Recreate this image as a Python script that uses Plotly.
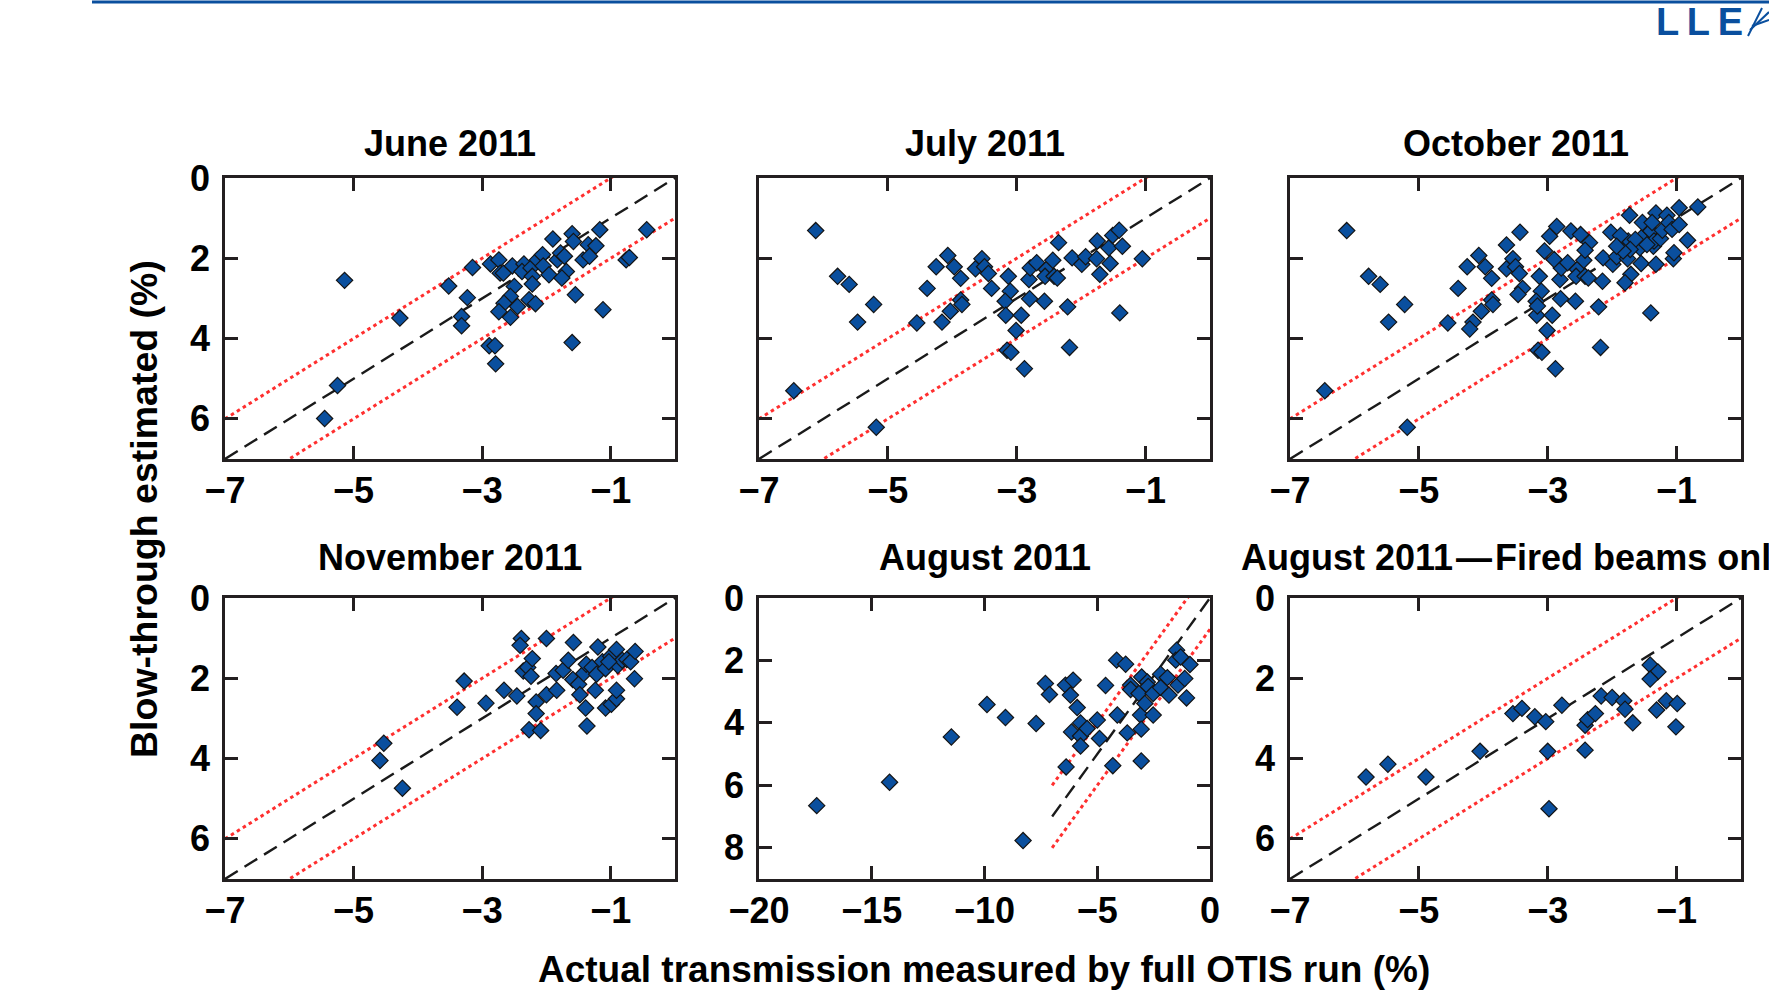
import plotly.graph_objects as go

W, H = 1769, 992

# ---------------- data ----------------
june_x = [-5.14, -5.45, -5.25, -4.28, -3.52, -3.15, -3.23, -3.32, -3.32, -2.87,
          -2.74, -2.72, -2.67, -2.53, -2.35, -2.38, -2.24, -2.22, -2.22, -2.50,
          -2.56, -2.66, -2.74, -2.45, -2.56, -2.27, -2.17, -2.14, -2.06, -2.05,
          -1.96, -1.90, -1.83, -1.78, -1.72, -1.69, -1.76, -1.60, -1.58, -1.35,
          -1.23, -1.43, -1.33, -1.17, -1.55, -1.12, -1.60, -2.89, -2.80, -2.79,
          -0.76, -0.71, -0.44]
june_y = [2.55, 5.99, 5.17, 3.49, 2.69, 2.23, 2.98, 3.45, 3.68, 2.14,
          2.04, 2.37, 2.37, 2.19, 2.14, 2.33, 2.24, 2.45, 2.64, 2.70,
          2.95, 3.12, 3.33, 3.20, 3.47, 3.03, 3.13, 2.04, 1.91, 2.19,
          2.41, 1.52, 2.04, 1.87, 1.95, 2.33, 2.49, 1.39, 1.58, 1.66,
          1.69, 2.04, 1.95, 1.29, 2.91, 3.28, 4.10, 4.18, 4.18, 4.63,
          2.04, 1.98, 1.29]

july_x = [-6.12, -6.46, -5.18, -5.78, -5.60, -5.22, -5.47, -4.55, -4.39, -4.25,
          -4.07, -3.97, -3.87, -3.87, -3.85, -4.03, -4.16, -3.64, -3.54, -3.50,
          -3.44, -3.39, -3.13, -3.10, -3.18, -3.17, -2.93, -3.01, -3.15, -3.09,
          -2.88, -2.81, -2.79, -2.69, -2.80, -2.57, -2.54, -2.56, -2.44, -2.42,
          -2.37, -2.35, -2.21, -2.14, -1.99, -1.93, -2.18, -1.75, -1.76, -1.71,
          -1.55, -1.57, -1.51, -1.41, -1.36, -1.05, -1.40]
july_y = [1.31, 5.30, 6.21, 2.45, 2.65, 3.15, 3.59, 3.61, 2.75, 2.21,
          1.93, 2.21, 2.50, 3.04, 3.15, 3.32, 3.59, 2.26, 2.01, 2.21,
          2.38, 2.75, 2.45, 2.82, 3.07, 3.42, 3.42, 3.80, 4.29, 4.34,
          4.75, 2.53, 2.24, 2.11, 3.01, 3.07, 2.28, 2.45, 2.05, 2.45,
          2.49, 1.61, 3.21, 1.99, 2.15, 1.96, 4.22, 1.57, 2.01, 2.40,
          2.13, 1.74, 1.43, 1.30, 1.70, 2.01, 3.36]

# October contains the July shots plus the later ones
oct_new_x = [-3.64, -3.43, -4.21, -3.46, -3.16, -3.05, -2.97, -2.86, -2.90, -2.64,
             -2.49, -2.42, -2.15, -2.02, -1.87, -1.73, -1.80, -1.53, -1.40, -1.35,
             -1.32, -1.32, -1.25, -1.22, -1.15, -1.12, -1.07, -1.04, -0.96, -0.96,
             -0.83, -0.67, -1.64, -1.46, -1.72, -1.83, -1.93, -1.38]
oct_new_y = [1.67, 1.35, 3.76, 2.90, 3.19, 1.82, 1.45, 1.21, 2.03, 1.32,
             1.41, 1.80, 2.57, 1.35, 1.43, 0.93, 2.61, 1.11, 1.32, 1.57,
             0.87, 2.15, 1.51, 1.30, 0.93, 1.11, 1.28, 1.86, 0.74, 1.16,
             1.55, 0.72, 1.53, 1.66, 1.78, 1.82, 1.70, 1.11]
oct_x = july_x + oct_new_x
oct_y = july_y + oct_new_y

nov_x = [-4.53, -4.59, -4.24, -3.39, -3.28, -2.94, -2.66, -2.46, -2.39, -2.41,
         -2.36, -2.29, -2.24, -2.22, -2.16, -2.16, -2.27, -2.09, -2.00, -2.00,
         -1.84, -1.85, -1.74, -1.66, -1.58, -1.59, -1.50, -1.48, -1.39, -1.37,
         -1.42, -1.38, -1.29, -1.22, -1.20, -1.24, -1.13, -1.08, -1.08, -0.99,
         -0.91, -0.91, -1.00, -0.91, -0.89, -0.82, -0.75, -0.69, -0.62, -0.63,
         -1.03]
nov_y = [3.62, 4.05, 4.74, 2.72, 2.07, 2.62, 2.30, 2.44, 1.01, 1.18,
         1.82, 1.73, 1.95, 1.51, 2.59, 2.88, 3.28, 3.30, 1.01, 2.41,
         2.30, 1.88, 1.80, 1.55, 1.11, 2.03, 2.15, 2.41, 2.74, 3.19,
         1.88, 1.65, 1.73, 1.90, 1.22, 2.30, 1.59, 1.76, 2.74, 2.65,
         2.51, 2.30, 1.45, 1.28, 1.68, 1.55, 1.53, 1.59, 1.33, 2.01,
         1.59]

aug_x = [-17.44, -14.21, -11.47, -9.89, -9.07, -8.29, -7.71, -7.30, -7.12, -6.41,
         -6.07, -6.19, -5.89, -6.14, -5.74, -5.74, -5.45, -5.74, -6.38, -5.00,
         -4.90, -4.63, -4.14, -3.74, -4.11, -4.31, -3.52, -3.52, -3.67, -3.03,
         -3.08, -3.05, -3.05, -3.15, -2.89, -2.78, -2.74, -2.52, -2.52, -2.19,
         -2.19, -1.89, -1.82, -1.48, -1.52, -1.30, -1.42, -1.12, -1.04, -0.89]
aug_y = [6.65, 5.90, 4.45, 3.41, 3.83, 7.77, 4.02, 2.74, 3.09, 2.79,
         2.63, 3.11, 3.51, 4.29, 4.00, 4.42, 4.18, 4.74, 5.41, 3.91,
         4.50, 2.80, 1.99, 2.12, 3.75, 5.37, 2.79, 2.93, 4.32, 2.53,
         3.75, 4.20, 5.22, 3.06, 3.38, 2.69, 2.83, 3.06, 3.75, 2.44,
         2.87, 2.55, 3.11, 1.67, 1.99, 1.89, 2.79, 2.58, 3.20, 2.13]

augf_x = [-5.82, -5.48, -4.89, -4.05, -3.54, -3.40, -3.20, -3.03, -3.00, -2.98,
          -2.78, -2.42, -2.42, -2.38, -2.26, -2.17, -2.00, -1.82, -1.80, -1.68,
          -1.41, -1.29, -1.41, -1.31, -1.16, -0.99, -1.01]
augf_y = [4.46, 4.14, 4.46, 3.82, 2.88, 2.75, 2.96, 3.08, 3.82, 5.25,
          2.67, 3.79, 3.17, 3.03, 2.88, 2.44, 2.48, 2.56, 2.77, 3.11,
          1.67, 1.84, 2.02, 2.79, 2.56, 2.63, 3.21]

titles = ["June 2011", "July 2011", "October 2011",
          "November 2011", "August 2011", "August 2011\u200a\u2014\u200aFired beams only"]
series_x = [june_x, july_x, oct_x, nov_x, aug_x, augf_x]
series_y = [june_y, july_y, oct_y, nov_y, aug_y, augf_y]

xticks_std = [-7, -5, -3, -1]
xticks_aug = [-20, -15, -10, -5, 0]
yticks_std = [0, 2, 4, 6]
yticks_aug = [0, 2, 4, 6, 8]

# reference lines: measured = -estimated, with a +/-1 % band
ref_line_x = [-7, 0]
band = 1.0

x_title = "Actual transmission measured by full OTIS run (%)"
y_title = "Blow-through estimated (%)"

# ---------------- layout geometry (pixels) ----------------
cols = [(225, 675), (759, 1210), (1290, 1741)]
rows = [(178, 459), (598, 879)]

FONT = "Liberation Sans, Arial, Helvetica, sans-serif"
AXC = "#231f20"
BLUE = "#0a4f9e"

fig = go.Figure()
layout = dict(
    width=W, height=H, margin=dict(l=0, r=0, t=0, b=0, pad=0, autoexpand=False),
    paper_bgcolor="white", plot_bgcolor="white", showlegend=False,
    font=dict(family=FONT, color="black"),
)

annotations = []
for i in range(6):
    r, c = divmod(i, 3)
    ax = "" if i == 0 else str(i + 1)
    xa, ya = "x" + ax, "y" + ax
    is_aug = (i == 4)
    x0, x1 = cols[c]
    yt, yb = rows[r]
    show_ylab = (c == 0) or (r == 1)

    layout["xaxis" + ax] = dict(
        domain=[x0 / W, x1 / W], anchor=ya, automargin=False,
        range=[-20, 0] if is_aug else [-7, 0],
        tickvals=xticks_aug if is_aug else xticks_std,
        showline=True, linecolor=AXC, linewidth=2.5, mirror="ticks",
        ticks="inside", ticklen=13, tickwidth=2.5, tickcolor=AXC,
        showgrid=False, zeroline=False,
        tickfont=dict(size=36, family=FONT, weight="bold", color="black"),
        ticklabelstandoff=-2,
    )
    layout["yaxis" + ax] = dict(
        domain=[1 - yb / H, 1 - yt / H], anchor=xa, automargin=False,
        range=[9, 0] if is_aug else [7, 0],
        tickvals=yticks_aug if is_aug else yticks_std,
        showline=True, linecolor=AXC, linewidth=2.5, mirror="ticks",
        ticks="inside", ticklen=13, tickwidth=2.5, tickcolor=AXC,
        showgrid=False, zeroline=False, showticklabels=show_ylab,
        tickfont=dict(size=36, family=FONT, weight="bold", color="black"),
        ticklabelstandoff=5,
    )

    lx = ref_line_x
    for off in (band, -band):
        fig.add_trace(go.Scatter(
            x=lx, y=[-v + off for v in lx], xaxis=xa, yaxis=ya, mode="lines",
            line=dict(color="#ff2f2f", width=3, dash="3.5px,3.5px"), hoverinfo="skip"))
    fig.add_trace(go.Scatter(
        x=lx, y=[-v for v in lx], xaxis=xa, yaxis=ya, mode="lines",
        line=dict(color="#1a1a1a", width=2.4, dash="15px,8px"), hoverinfo="skip"))
    fig.add_trace(go.Scatter(
        x=series_x[i], y=series_y[i], xaxis=xa, yaxis=ya, mode="markers",
        marker=dict(symbol="diamond", size=12.5, color=BLUE,
                    line=dict(color="#141414", width=1.2)),
        cliponaxis=False))

    title_y = 144 if r == 0 else 557
    if i == 5:
        annotations.append(dict(
            text=titles[i], xref="paper", yref="paper", x=1239 / W, y=1 - title_y / H,
            xanchor="left", yanchor="middle", showarrow=False,
            font=dict(size=36, family=FONT, weight="bold", color="black")))
    else:
        annotations.append(dict(
            text=titles[i], xref="paper", yref="paper", x=(x0 + x1) / 2 / W, y=1 - title_y / H,
            xanchor="center", yanchor="middle", showarrow=False,
            font=dict(size=36, family=FONT, weight="bold", color="black")))

annotations.append(dict(
    text=x_title, xref="paper", yref="paper", x=984 / W, y=1 - 969 / H,
    xanchor="center", yanchor="middle", showarrow=False,
    font=dict(size=37, family=FONT, weight="bold", color="black")))
annotations.append(dict(
    text=y_title, xref="paper", yref="paper", x=144 / W, y=1 - 509 / H,
    xanchor="center", yanchor="middle", showarrow=False, textangle=-90,
    font=dict(size=37.5, family=FONT, weight="bold", color="black")))
annotations.append(dict(
    text="L\u2009L\u2009E", xref="paper", yref="paper", x=1654 / W, y=1 - 22 / H,
    xanchor="left", yanchor="middle", showarrow=False,
    font=dict(size=38, family=FONT, weight=900, color=BLUE)))

layout["annotations"] = annotations
layout["shapes"] = [
    dict(type="line", xref="paper", yref="paper", x0=92 / W, x1=1.0,
         y0=1 - 2 / H, y1=1 - 2 / H, line=dict(color=BLUE, width=3)),
    dict(type="line", xref="paper", yref="paper", x0=1748 / W, x1=1762 / W,
         y0=1 - 36 / H, y1=1 - 8 / H, line=dict(color=BLUE, width=2)),
    dict(type="line", xref="paper", yref="paper", x0=1750 / W, x1=1769 / W,
         y0=1 - 30 / H, y1=1 - 12 / H, line=dict(color=BLUE, width=2)),
    dict(type="line", xref="paper", yref="paper", x0=1752 / W, x1=1769 / W,
         y0=1 - 26 / H, y1=1 - 20 / H, line=dict(color=BLUE, width=2)),
]
fig.update_layout(**layout)
fig.write_html("out.html")
